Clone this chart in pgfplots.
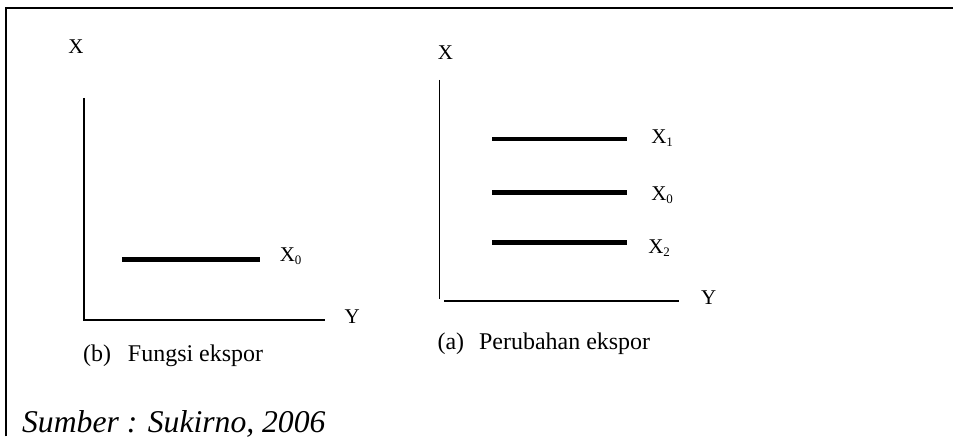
\documentclass[border=0pt]{standalone}
\usepackage{pgfplots}
\pgfplotsset{compat=1.18}
\usepackage{fontspec}
\setmainfont{Liberation Serif}
\newcommand{\lab}{\fontsize{21}{25}\selectfont}
\newcommand{\capt}{\fontsize{24}{28}\selectfont}
\newcommand{\src}{\fontsize{31.7}{36}\selectfont\itshape}
\newcommand{\sub}[1]{\raisebox{-3pt}{\fontsize{13}{15}\selectfont #1}}
\begin{document}
\begin{tikzpicture}
\begin{axis}[
  scale only axis, width=954pt, height=437pt,
  xmin=0, xmax=954, ymin=0, ymax=437, y dir=reverse,
  hide axis, clip=false]
% canvas extent
\addplot[draw=none] coordinates {(0,0) (954,437)};
% frame
\addplot[black, line width=2.8pt] coordinates {(6,437) (6,8) (954,8)};
% left panel axes
\addplot[black, line width=1.5pt] coordinates {(84,98) (84,320.5) (325,320.5)};
\addplot[black, line width=4.5pt] coordinates {(122,260) (260,260)};
% right panel axes
\addplot[black, line width=1.5pt] coordinates {(440,80) (440,299)};
\addplot[black, line width=1.5pt] coordinates {(445,301.5) (680,301.5)};
\addplot[black, line width=4.5pt] coordinates {(493,139) (628,139)};
\addplot[black, line width=4.5pt] coordinates {(493,193) (628,193)};
\addplot[black, line width=4.5pt] coordinates {(493,243) (628,243)};
% labels
\node[inner sep=0, anchor=center] at (axis cs:76,47) {\lab X};
\node[inner sep=0, anchor=west] at (axis cs:345,317) {\lab Y};
\node[inner sep=0, anchor=west] at (axis cs:280,257) {\lab X\sub{0}};
\node[inner sep=0, anchor=west] at (axis cs:83,356) {\capt (b)\hspace{17pt}Fungsi ekspor};
\node[inner sep=0, anchor=center] at (axis cs:446,53) {\lab X};
\node[inner sep=0, anchor=west] at (axis cs:702,298) {\lab Y};
\node[inner sep=0, anchor=west] at (axis cs:652,138) {\lab X\sub{1}};
\node[inner sep=0, anchor=west] at (axis cs:652,195) {\lab X\sub{0}};
\node[inner sep=0, anchor=west] at (axis cs:649,248) {\lab X\sub{2}};
\node[inner sep=0, anchor=west] at (axis cs:438,344) {\capt (a)\hspace{15pt}Perubahan ekspor};
\node[inner sep=0, anchor=base west] at (axis cs:22,433) {\src Sumber : Sukirno, 2006};
\end{axis}
\end{tikzpicture}
\end{document}
